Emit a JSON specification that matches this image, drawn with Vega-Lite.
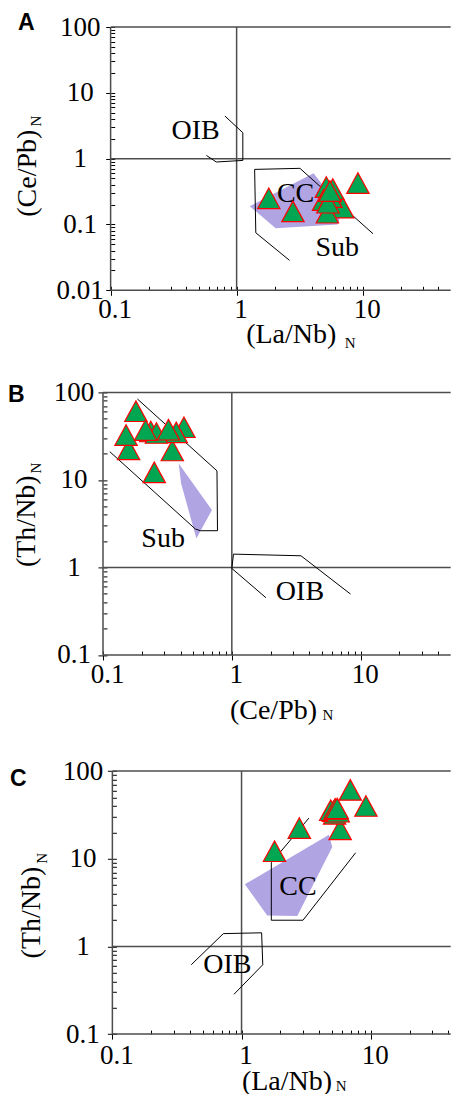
{
"$schema": "https://vega.github.io/schema/vega-lite/v6.json",
"background": "white",
"padding": {"left": 8, "top": 12, "right": 0, "bottom": 0},
"config": {
  "view": {"stroke": null},
  "axis": {"labelFont": "Liberation Serif", "titleFont": "Liberation Serif", "labelColor": "#000", "titleColor": "#000", "titleFontWeight": "normal", "tickColor": "#000", "tickWidth": 1, "domain": false, "grid": false, "labelFlush": false, "labelOverlap": false},
  "text": {"font": "Liberation Serif"}
},
"datasets": {
  "one": [{"k": 1}],
  "samples": [
    {"LaNb": 1.80, "CePb": 0.25, "ThNb": 12.2},
    {"LaNb": 2.80, "CePb": 0.158, "ThNb": 22.4},
    {"LaNb": 6.95, "CePb": 0.18, "ThNb": 61},
    {"LaNb": 9.18, "CePb": 0.425, "ThNb": 40},
    {"LaNb": 5.80, "CePb": 0.345, "ThNb": 21.7},
    {"LaNb": 5.25, "CePb": 0.151, "ThNb": 32.6},
    {"LaNb": 5.15, "CePb": 0.37, "ThNb": 34.9},
    {"LaNb": 4.90, "CePb": 0.235, "ThNb": 35.8},
    {"LaNb": 5.60, "CePb": 0.26, "ThNb": 34.4},
    {"LaNb": 5.30, "CePb": 0.214, "ThNb": 37.2},
    {"LaNb": 5.50, "CePb": 0.322, "ThNb": 37.5}
  ],
  "outlines": [
    {"p": "A", "t": "line", "g": "OIB", "i": 0, "x": 0.808, "y": 4.44},
    {"p": "A", "t": "line", "g": "OIB", "i": 1, "x": 1.12, "y": 2.48},
    {"p": "A", "t": "line", "g": "OIB", "i": 2, "x": 1.12, "y": 0.94},
    {"p": "A", "t": "line", "g": "OIB", "i": 3, "x": 0.69, "y": 0.89},
    {"p": "A", "t": "line", "g": "OIB", "i": 4, "x": 0.576, "y": 1.12},
    {"p": "A", "t": "line", "g": "Sub", "i": 0, "x": 2.63, "y": 0.0285},
    {"p": "A", "t": "line", "g": "Sub", "i": 1, "x": 1.42, "y": 0.0748},
    {"p": "A", "t": "line", "g": "Sub", "i": 2, "x": 1.39, "y": 0.687},
    {"p": "A", "t": "line", "g": "Sub", "i": 3, "x": 3.18, "y": 0.713},
    {"p": "A", "t": "line", "g": "Sub", "i": 4, "x": 12.1, "y": 0.0722},
    {"p": "A", "t": "poly", "g": "CC", "i": 0, "x": 1.27, "y": 0.19},
    {"p": "A", "t": "poly", "g": "CC", "i": 1, "x": 4.08, "y": 0.60},
    {"p": "A", "t": "poly", "g": "CC", "i": 2, "x": 7.0, "y": 0.16},
    {"p": "A", "t": "poly", "g": "CC", "i": 3, "x": 6.3, "y": 0.10},
    {"p": "A", "t": "poly", "g": "CC", "i": 4, "x": 2.04, "y": 0.088},
    {"p": "B", "t": "line", "g": "Sub", "i": 0, "x": 0.113, "y": 21.0},
    {"p": "B", "t": "line", "g": "Sub", "i": 1, "x": 0.521, "y": 2.75},
    {"p": "B", "t": "line", "g": "Sub", "i": 2, "x": 0.570, "y": 2.63},
    {"p": "B", "t": "line", "g": "Sub", "i": 3, "x": 0.774, "y": 2.63},
    {"p": "B", "t": "line", "g": "Sub", "i": 4, "x": 0.767, "y": 12.7},
    {"p": "B", "t": "line", "g": "Sub", "i": 5, "x": 0.185, "y": 84.1},
    {"p": "B", "t": "poly", "g": "CC", "i": 0, "x": 0.387, "y": 15.4},
    {"p": "B", "t": "poly", "g": "CC", "i": 1, "x": 0.701, "y": 4.53},
    {"p": "B", "t": "poly", "g": "CC", "i": 2, "x": 0.531, "y": 2.14},
    {"p": "B", "t": "poly", "g": "CC", "i": 3, "x": 0.404, "y": 9.12},
    {"p": "B", "t": "line", "g": "OIB", "i": 0, "x": 1.84, "y": 0.451},
    {"p": "B", "t": "line", "g": "OIB", "i": 1, "x": 1.0, "y": 0.975},
    {"p": "B", "t": "line", "g": "OIB", "i": 2, "x": 1.03, "y": 1.42},
    {"p": "B", "t": "line", "g": "OIB", "i": 3, "x": 3.44, "y": 1.36},
    {"p": "B", "t": "line", "g": "OIB", "i": 4, "x": 8.34, "y": 0.497},
    {"p": "C", "t": "poly", "g": "CC", "i": 0, "x": 1.06, "y": 5.11},
    {"p": "C", "t": "poly", "g": "CC", "i": 1, "x": 4.75, "y": 18.8},
    {"p": "C", "t": "poly", "g": "CC", "i": 2, "x": 5.04, "y": 13.6},
    {"p": "C", "t": "poly", "g": "CC", "i": 3, "x": 2.70, "y": 2.22},
    {"p": "C", "t": "poly", "g": "CC", "i": 4, "x": 1.58, "y": 2.26},
    {"p": "C", "t": "line", "g": "CC", "i": 0, "x": 3.32, "y": 29.1},
    {"p": "C", "t": "line", "g": "CC", "i": 1, "x": 1.70, "y": 9.0},
    {"p": "C", "t": "line", "g": "CC", "i": 2, "x": 1.70, "y": 1.99},
    {"p": "C", "t": "line", "g": "CC", "i": 3, "x": 2.99, "y": 1.99},
    {"p": "C", "t": "line", "g": "CC", "i": 4, "x": 7.64, "y": 11.7},
    {"p": "C", "t": "line", "g": "OIB", "i": 0, "x": 0.408, "y": 0.618},
    {"p": "C", "t": "line", "g": "OIB", "i": 1, "x": 0.723, "y": 1.40},
    {"p": "C", "t": "line", "g": "OIB", "i": 2, "x": 1.43, "y": 1.43},
    {"p": "C", "t": "line", "g": "OIB", "i": 3, "x": 1.46, "y": 0.618},
    {"p": "C", "t": "line", "g": "OIB", "i": 4, "x": 0.873, "y": 0.284}
  ],
  "labels": [
    {"p": "A", "label": "OIB", "x": 0.473, "y": 2.63},
    {"p": "A", "label": "CC", "x": 2.94, "y": 0.293},
    {"p": "A", "label": "Sub", "x": 6.3, "y": 0.0443},
    {"p": "B", "label": "Sub", "x": 0.293, "y": 2.14},
    {"p": "B", "label": "OIB", "x": 3.38, "y": 0.527},
    {"p": "C", "label": "CC", "x": 2.73, "y": 4.76},
    {"p": "C", "label": "OIB", "x": 0.776, "y": 0.618}
  ]
},
"spacing": 101.4,
"bounds": "flush",
"vconcat": [
{
  "width": 347.7, "height": 263.3,
  "title": {"text": "A", "anchor": "start", "frame": "group", "offset": 0, "font": "Liberation Sans", "fontSize": 23, "fontWeight": "bold", "color": "#000", "baseline": "alphabetic", "dx": -85, "dy": 40},
  "resolve": {"axis": {"x": "independent", "y": "independent"}},
  "layer": [
    {"data": {"name": "one"}, "mark": {"type": "rule", "color": "#4d4d4d", "strokeWidth": 1.5}, "encoding": {"x": {"datum": 0.1, "type": "quantitative", "scale": {"type": "log", "domain": [0.087, 50], "nice": false}, "axis": null}, "y": {"datum": 0.01, "type": "quantitative", "scale": {"type": "log", "domain": [0.01, 100], "nice": false}, "axis": null}, "y2": {"datum": 100}}},
    {"data": {"name": "one"}, "mark": {"type": "rule", "color": "#4d4d4d", "strokeWidth": 1.5}, "encoding": {"y": {"datum": 0.01, "type": "quantitative", "scale": {"type": "log", "domain": [0.01, 100], "nice": false}, "axis": null}, "x": {"datum": 0.1, "type": "quantitative", "scale": {"type": "log", "domain": [0.087, 50], "nice": false}, "axis": null}, "x2": {"datum": 50}}},
    {"data": {"name": "one"}, "mark": {"type": "rule", "color": "#4d4d4d", "strokeWidth": 1.5}, "encoding": {"y": {"datum": 100, "type": "quantitative", "scale": {"type": "log", "domain": [0.01, 100], "nice": false}, "axis": null}, "x": {"datum": 0.1, "type": "quantitative", "scale": {"type": "log", "domain": [0.087, 50], "nice": false}, "axis": null}, "x2": {"datum": 50}}},
    {"data": {"name": "one"}, "mark": {"type": "rule", "color": "#4d4d4d", "strokeWidth": 1.5}, "encoding": {"x": {"datum": 1, "type": "quantitative", "scale": {"type": "log", "domain": [0.087, 50], "nice": false}, "axis": null}, "y": {"datum": 0.01, "type": "quantitative", "scale": {"type": "log", "domain": [0.01, 100], "nice": false}, "axis": null}, "y2": {"datum": 100}}},
    {"data": {"name": "one"}, "mark": {"type": "rule", "color": "#4d4d4d", "strokeWidth": 1.5}, "encoding": {"y": {"datum": 1, "type": "quantitative", "scale": {"type": "log", "domain": [0.01, 100], "nice": false}, "axis": null}, "x": {"datum": 0.1, "type": "quantitative", "scale": {"type": "log", "domain": [0.087, 50], "nice": false}, "axis": null}, "x2": {"datum": 50}}},
    {"data": {"name": "outlines"}, "transform": [{"filter": {"and": [{"field": "p", "equal": "A"}, {"field": "t", "equal": "poly"}]}}],
     "mark": {"type": "line", "fill": "#b0a4e3", "strokeWidth": 0},
     "encoding": {
       "x": {"field": "x", "type": "quantitative", "scale": {"type": "log", "domain": [0.087, 50], "nice": false}, "axis": {"orient": "bottom", "values": [0.1,0.2,0.3,0.4,0.5,0.6,0.7,0.8,0.9,1,2,3,4,5,6,7,8,9,10,20,30,40,50], "tickSize": -4, "labels": false, "title": "N", "titleFont": "Liberation Serif", "titleFontSize": 15, "titleX": 246.7, "titleY": 57.4, "titleBaseline": "alphabetic", "titleAlign": "center", "titleAngle": 0}},
       "y": {"field": "y", "type": "quantitative", "scale": {"type": "log", "domain": [0.01, 100], "nice": false}, "axis": {"orient": "left", "values": [0.01,0.02,0.03,0.04,0.05,0.06,0.07,0.08,0.09,0.1,0.2,0.3,0.4,0.5,0.6,0.7,0.8,0.9,1,2,3,4,5,6,7,8,9,10,20,30,40,50,60,70,80,90,100], "tickSize": -4, "labels": false, "offset": -7.7, "title": "N", "titleFont": "Liberation Serif", "titleFontSize": 15, "titleX": -70, "titleY": 93.5, "titleBaseline": "alphabetic", "titleAlign": "center", "titleAngle": 270}},
       "order": {"field": "i", "type": "quantitative"},
       "detail": {"field": "g"}
     }},
    {"data": {"name": "outlines"}, "transform": [{"filter": {"and": [{"field": "p", "equal": "A"}, {"field": "t", "equal": "line"}]}}],
     "mark": {"type": "line", "color": "#000", "strokeWidth": 1},
     "encoding": {
       "x": {"field": "x", "type": "quantitative", "scale": {"type": "log", "domain": [0.087, 50], "nice": false}, "axis": null},
       "y": {"field": "y", "type": "quantitative", "scale": {"type": "log", "domain": [0.01, 100], "nice": false}, "axis": null},
       "order": {"field": "i", "type": "quantitative"},
       "detail": {"field": "g"}
     }},
    {"data": {"name": "labels"}, "transform": [{"filter": {"field": "p", "equal": "A"}}],
     "mark": {"type": "text", "font": "Liberation Serif", "fontSize": 28, "align": "center", "baseline": "middle", "color": "#000"},
     "encoding": {
       "x": {"field": "x", "type": "quantitative", "scale": {"type": "log", "domain": [0.087, 50], "nice": false}, "axis": null},
       "y": {"field": "y", "type": "quantitative", "scale": {"type": "log", "domain": [0.01, 100], "nice": false}, "axis": null},
       "text": {"field": "label"}
     }},
    {"data": {"name": "samples"},
     "mark": {"type": "point", "shape": "M0,-0.92L1,0.92L-1,0.92Z", "size": 500, "filled": true, "color": "#00a651", "stroke": "#ff0000", "strokeWidth": 1.2, "opacity": 1},
     "encoding": {
       "x": {"field": "LaNb", "type": "quantitative", "scale": {"type": "log", "domain": [0.087, 50], "nice": false}, "axis": {"orient": "bottom", "values": [0.1, 1, 10], "format": "~g", "tickSize": 5, "labelFont": "Liberation Serif", "labelFontSize": 27, "labelPadding": 1, "labelOffset": 4, "title": "(La/Nb)", "titleFont": "Liberation Serif", "titleFontSize": 28, "titleX": 187.7, "titleY": 52.4, "titleBaseline": "alphabetic", "titleAlign": "center", "titleAngle": 0}},
       "y": {"field": "CePb", "type": "quantitative", "scale": {"type": "log", "domain": [0.01, 100], "nice": false}, "axis": {"orient": "left", "values": [0.01, 0.1, 1, 10, 100], "format": "~g", "tickSize": 5, "labelFont": "Liberation Serif", "labelFontSize": 27, "labelPadding": 26, "labelAlign": "center", "labelBaseline": "middle", "offset": -7.7, "title": "(Ce/Pb)", "titleFont": "Liberation Serif", "titleFontSize": 28, "titleX": -75, "titleY": 145.7, "titleBaseline": "alphabetic", "titleAlign": "center", "titleAngle": 270}}
     }}
  ]
},
{
  "width": 347.7, "height": 262.6,
  "title": {"text": "B", "anchor": "start", "frame": "group", "offset": 0, "font": "Liberation Sans", "fontSize": 23, "fontWeight": "bold", "color": "#000", "baseline": "alphabetic", "dx": -95, "dy": 47},
  "resolve": {"axis": {"x": "independent", "y": "independent"}},
  "layer": [
    {"data": {"name": "one"}, "mark": {"type": "rule", "color": "#4d4d4d", "strokeWidth": 1.5}, "encoding": {"x": {"datum": 0.1, "type": "quantitative", "scale": {"type": "log", "domain": [0.1, 50], "nice": false}, "axis": null}, "y": {"datum": 0.1, "type": "quantitative", "scale": {"type": "log", "domain": [0.1, 100], "nice": false}, "axis": null}, "y2": {"datum": 100}}},
    {"data": {"name": "one"}, "mark": {"type": "rule", "color": "#4d4d4d", "strokeWidth": 1.5}, "encoding": {"y": {"datum": 0.1, "type": "quantitative", "scale": {"type": "log", "domain": [0.1, 100], "nice": false}, "axis": null}, "x": {"datum": 0.1, "type": "quantitative", "scale": {"type": "log", "domain": [0.1, 50], "nice": false}, "axis": null}, "x2": {"datum": 50}}},
    {"data": {"name": "one"}, "mark": {"type": "rule", "color": "#4d4d4d", "strokeWidth": 1.5}, "encoding": {"y": {"datum": 100, "type": "quantitative", "scale": {"type": "log", "domain": [0.1, 100], "nice": false}, "axis": null}, "x": {"datum": 0.1, "type": "quantitative", "scale": {"type": "log", "domain": [0.1, 50], "nice": false}, "axis": null}, "x2": {"datum": 50}}},
    {"data": {"name": "one"}, "mark": {"type": "rule", "color": "#4d4d4d", "strokeWidth": 1.5}, "encoding": {"x": {"datum": 1, "type": "quantitative", "scale": {"type": "log", "domain": [0.1, 50], "nice": false}, "axis": null}, "y": {"datum": 0.1, "type": "quantitative", "scale": {"type": "log", "domain": [0.1, 100], "nice": false}, "axis": null}, "y2": {"datum": 100}}},
    {"data": {"name": "one"}, "mark": {"type": "rule", "color": "#4d4d4d", "strokeWidth": 1.5}, "encoding": {"y": {"datum": 1, "type": "quantitative", "scale": {"type": "log", "domain": [0.1, 100], "nice": false}, "axis": null}, "x": {"datum": 0.1, "type": "quantitative", "scale": {"type": "log", "domain": [0.1, 50], "nice": false}, "axis": null}, "x2": {"datum": 50}}},
    {"data": {"name": "outlines"}, "transform": [{"filter": {"and": [{"field": "p", "equal": "B"}, {"field": "t", "equal": "poly"}]}}],
     "mark": {"type": "line", "fill": "#b0a4e3", "strokeWidth": 0},
     "encoding": {
       "x": {"field": "x", "type": "quantitative", "scale": {"type": "log", "domain": [0.1, 50], "nice": false}, "axis": {"orient": "bottom", "values": [0.1,0.2,0.3,0.4,0.5,0.6,0.7,0.8,0.9,1,2,3,4,5,6,7,8,9,10,20,30,40,50], "tickSize": -4, "labels": false, "title": "N", "titleFont": "Liberation Serif", "titleFontSize": 15, "titleX": 224.4, "titleY": 65, "titleBaseline": "alphabetic", "titleAlign": "center", "titleAngle": 0}},
       "y": {"field": "y", "type": "quantitative", "scale": {"type": "log", "domain": [0.1, 100], "nice": false}, "axis": {"orient": "left", "values": [0.1,0.2,0.3,0.4,0.5,0.6,0.7,0.8,0.9,1,2,3,4,5,6,7,8,9,10,20,30,40,50,60,70,80,90,100], "tickSize": -4, "labels": false, "title": "N", "titleFont": "Liberation Serif", "titleFontSize": 15, "titleX": -62.3, "titleY": 75.3, "titleBaseline": "alphabetic", "titleAlign": "center", "titleAngle": 270}},
       "order": {"field": "i", "type": "quantitative"},
       "detail": {"field": "g"}
     }},
    {"data": {"name": "outlines"}, "transform": [{"filter": {"and": [{"field": "p", "equal": "B"}, {"field": "t", "equal": "line"}]}}],
     "mark": {"type": "line", "color": "#000", "strokeWidth": 1},
     "encoding": {
       "x": {"field": "x", "type": "quantitative", "scale": {"type": "log", "domain": [0.1, 50], "nice": false}, "axis": null},
       "y": {"field": "y", "type": "quantitative", "scale": {"type": "log", "domain": [0.1, 100], "nice": false}, "axis": null},
       "order": {"field": "i", "type": "quantitative"},
       "detail": {"field": "g"}
     }},
    {"data": {"name": "labels"}, "transform": [{"filter": {"field": "p", "equal": "B"}}],
     "mark": {"type": "text", "font": "Liberation Serif", "fontSize": 28, "align": "center", "baseline": "middle", "color": "#000"},
     "encoding": {
       "x": {"field": "x", "type": "quantitative", "scale": {"type": "log", "domain": [0.1, 50], "nice": false}, "axis": null},
       "y": {"field": "y", "type": "quantitative", "scale": {"type": "log", "domain": [0.1, 100], "nice": false}, "axis": null},
       "text": {"field": "label"}
     }},
    {"data": {"name": "samples"},
     "mark": {"type": "point", "shape": "M0,-0.92L1,0.92L-1,0.92Z", "size": 500, "filled": true, "color": "#00a651", "stroke": "#ff0000", "strokeWidth": 1.2, "opacity": 1},
     "encoding": {
       "x": {"field": "CePb", "type": "quantitative", "scale": {"type": "log", "domain": [0.1, 50], "nice": false}, "axis": {"orient": "bottom", "values": [0.1, 1, 10], "format": "~g", "tickSize": 5, "labelFont": "Liberation Serif", "labelFontSize": 27, "labelPadding": 2, "labelOffset": 4, "title": "(Ce/Pb)", "titleFont": "Liberation Serif", "titleFontSize": 28, "titleX": 170, "titleY": 63.4, "titleBaseline": "alphabetic", "titleAlign": "center", "titleAngle": 0}},
       "y": {"field": "ThNb", "type": "quantitative", "scale": {"type": "log", "domain": [0.1, 100], "nice": false}, "axis": {"orient": "left", "values": [0.1, 1, 10, 100], "format": "~g", "tickSize": 5, "labelFont": "Liberation Serif", "labelFontSize": 27, "labelPadding": 24.5, "labelAlign": "center", "labelBaseline": "middle", "title": "(Th/Nb)", "titleFont": "Liberation Serif", "titleFontSize": 28, "titleX": -68.8, "titleY": 128.3, "titleBaseline": "alphabetic", "titleAlign": "center", "titleAngle": 270}}
     }}
  ]
},
{
  "width": 347.7, "height": 277.3,
  "title": {"text": "C", "anchor": "start", "frame": "group", "offset": 0, "font": "Liberation Sans", "fontSize": 23, "fontWeight": "bold", "color": "#000", "baseline": "alphabetic", "dx": -93, "dy": 52},
  "resolve": {"axis": {"x": "independent", "y": "independent"}},
  "layer": [
    {"data": {"name": "one"}, "mark": {"type": "rule", "color": "#4d4d4d", "strokeWidth": 1.5}, "encoding": {"x": {"datum": 0.1, "type": "quantitative", "scale": {"type": "log", "domain": [0.0846, 41.6], "nice": false}, "axis": null}, "y": {"datum": 0.1, "type": "quantitative", "scale": {"type": "log", "domain": [0.1, 145.6], "nice": false}, "axis": null}, "y2": {"datum": 100}}},
    {"data": {"name": "one"}, "mark": {"type": "rule", "color": "#4d4d4d", "strokeWidth": 1.5}, "encoding": {"y": {"datum": 0.1, "type": "quantitative", "scale": {"type": "log", "domain": [0.1, 145.6], "nice": false}, "axis": null}, "x": {"datum": 0.1, "type": "quantitative", "scale": {"type": "log", "domain": [0.0846, 41.6], "nice": false}, "axis": null}, "x2": {"datum": 41.6}}},
    {"data": {"name": "one"}, "mark": {"type": "rule", "color": "#4d4d4d", "strokeWidth": 1.5}, "encoding": {"y": {"datum": 100, "type": "quantitative", "scale": {"type": "log", "domain": [0.1, 145.6], "nice": false}, "axis": null}, "x": {"datum": 0.1, "type": "quantitative", "scale": {"type": "log", "domain": [0.0846, 41.6], "nice": false}, "axis": null}, "x2": {"datum": 41.6}}},
    {"data": {"name": "one"}, "mark": {"type": "rule", "color": "#4d4d4d", "strokeWidth": 1.5}, "encoding": {"x": {"datum": 1, "type": "quantitative", "scale": {"type": "log", "domain": [0.0846, 41.6], "nice": false}, "axis": null}, "y": {"datum": 0.1, "type": "quantitative", "scale": {"type": "log", "domain": [0.1, 145.6], "nice": false}, "axis": null}, "y2": {"datum": 100}}},
    {"data": {"name": "one"}, "mark": {"type": "rule", "color": "#4d4d4d", "strokeWidth": 1.5}, "encoding": {"y": {"datum": 1, "type": "quantitative", "scale": {"type": "log", "domain": [0.1, 145.6], "nice": false}, "axis": null}, "x": {"datum": 0.1, "type": "quantitative", "scale": {"type": "log", "domain": [0.0846, 41.6], "nice": false}, "axis": null}, "x2": {"datum": 41.6}}},
    {"data": {"name": "outlines"}, "transform": [{"filter": {"and": [{"field": "p", "equal": "C"}, {"field": "t", "equal": "poly"}]}}],
     "mark": {"type": "line", "fill": "#b0a4e3", "strokeWidth": 0},
     "encoding": {
       "x": {"field": "x", "type": "quantitative", "scale": {"type": "log", "domain": [0.0846, 41.6], "nice": false}, "axis": {"orient": "bottom", "values": [0.1,0.2,0.3,0.4,0.5,0.6,0.7,0.8,0.9,1,2,3,4,5,6,7,8,9,10,20,30,40], "tickSize": -4, "labels": false, "title": "N", "titleFont": "Liberation Serif", "titleFontSize": 15, "titleX": 237.7, "titleY": 56, "titleBaseline": "alphabetic", "titleAlign": "center", "titleAngle": 0}},
       "y": {"field": "y", "type": "quantitative", "scale": {"type": "log", "domain": [0.1, 145.6], "nice": false}, "axis": {"orient": "left", "values": [0.1,0.2,0.3,0.4,0.5,0.6,0.7,0.8,0.9,1,2,3,4,5,6,7,8,9,10,20,30,40,50,60,70,80,90,100], "tickSize": -4, "labels": false, "offset": -9.4, "title": "N", "titleFont": "Liberation Serif", "titleFontSize": 15, "titleX": -65.7, "titleY": 101.1, "titleBaseline": "alphabetic", "titleAlign": "center", "titleAngle": 270}},
       "order": {"field": "i", "type": "quantitative"},
       "detail": {"field": "g"}
     }},
    {"data": {"name": "outlines"}, "transform": [{"filter": {"and": [{"field": "p", "equal": "C"}, {"field": "t", "equal": "line"}]}}],
     "mark": {"type": "line", "color": "#000", "strokeWidth": 1},
     "encoding": {
       "x": {"field": "x", "type": "quantitative", "scale": {"type": "log", "domain": [0.0846, 41.6], "nice": false}, "axis": null},
       "y": {"field": "y", "type": "quantitative", "scale": {"type": "log", "domain": [0.1, 145.6], "nice": false}, "axis": null},
       "order": {"field": "i", "type": "quantitative"},
       "detail": {"field": "g"}
     }},
    {"data": {"name": "labels"}, "transform": [{"filter": {"field": "p", "equal": "C"}}],
     "mark": {"type": "text", "font": "Liberation Serif", "fontSize": 28, "align": "center", "baseline": "middle", "color": "#000"},
     "encoding": {
       "x": {"field": "x", "type": "quantitative", "scale": {"type": "log", "domain": [0.0846, 41.6], "nice": false}, "axis": null},
       "y": {"field": "y", "type": "quantitative", "scale": {"type": "log", "domain": [0.1, 145.6], "nice": false}, "axis": null},
       "text": {"field": "label"}
     }},
    {"data": {"name": "samples"},
     "mark": {"type": "point", "shape": "M0,-0.92L1,0.92L-1,0.92Z", "size": 500, "filled": true, "color": "#00a651", "stroke": "#ff0000", "strokeWidth": 1.2, "opacity": 1},
     "encoding": {
       "x": {"field": "LaNb", "type": "quantitative", "scale": {"type": "log", "domain": [0.0846, 41.6], "nice": false}, "axis": {"orient": "bottom", "values": [0.1, 1, 10], "format": "~g", "tickSize": 5, "labelFont": "Liberation Serif", "labelFontSize": 27, "labelPadding": 3, "labelOffset": 4, "title": "(La/Nb)", "titleFont": "Liberation Serif", "titleFontSize": 28, "titleX": 183.5, "titleY": 55, "titleBaseline": "alphabetic", "titleAlign": "center", "titleAngle": 0}},
       "y": {"field": "ThNb", "type": "quantitative", "scale": {"type": "log", "domain": [0.1, 145.6], "nice": false}, "axis": {"orient": "left", "values": [0.1, 1, 10, 100], "format": "~g", "tickSize": 5, "labelFont": "Liberation Serif", "labelFontSize": 27, "labelPadding": 25, "labelAlign": "center", "labelBaseline": "middle", "offset": -9.4, "title": "(Th/Nb)", "titleFont": "Liberation Serif", "titleFontSize": 28, "titleX": -72.4, "titleY": 155.3, "titleBaseline": "alphabetic", "titleAlign": "center", "titleAngle": 270}}
     }}
  ]
}
]
}
